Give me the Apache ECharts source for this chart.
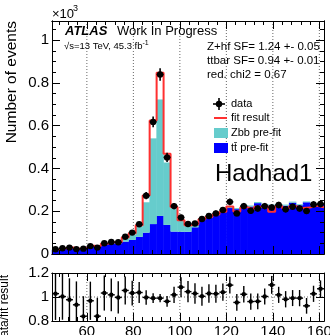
<!DOCTYPE html>
<html>
<head>
<meta charset="utf-8">
<script src="https://cdn.jsdelivr.net/npm/echarts@6/dist/echarts.min.js"></script>
<style>
html, body { margin: 0; padding: 0; background: #fff; }
#c { width: 330px; height: 335px; }
</style>
</head>
<body>
<div id="c"></div>
<script>
// Binning of the mass axis (GeV)
const binStart = 45;
const binWidth = 3;
const xMin = 45;
const xMax = 162;

// Events per bin, in units of 10^3
const dataCounts = [0.022, 0.027, 0.030, 0.023, 0.025, 0.037, 0.030, 0.050, 0.056, 0.055,
                    0.081, 0.100, 0.139, 0.273, 0.618, 0.840, 0.452, 0.224, 0.171, 0.140,
                    0.143, 0.164, 0.178, 0.190, 0.206, 0.244, 0.190, 0.224, 0.202, 0.213,
                    0.224, 0.218, 0.229, 0.209, 0.221, 0.213, 0.201, 0.232, 0.234];
const fitResult = [0.0214, 0.0269, 0.0307, 0.0246, 0.0298, 0.0382, 0.0357, 0.0484, 0.055, 0.0552,
                   0.0768, 0.0968, 0.134, 0.274, 0.624, 0.848, 0.469, 0.220, 0.158, 0.134,
                   0.139, 0.163, 0.173, 0.185, 0.198, 0.222, 0.199, 0.219, 0.210, 0.221,
                   0.223, 0.198, 0.225, 0.213, 0.223, 0.215, 0.217, 0.226, 0.219];
const ttbarPrefit = [0.019, 0.024, 0.027, 0.025, 0.028, 0.035, 0.034, 0.046, 0.050, 0.050,
                     0.058, 0.066, 0.080, 0.100, 0.140, 0.178, 0.136, 0.105, 0.104, 0.104,
                     0.125, 0.160, 0.172, 0.185, 0.198, 0.215, 0.210, 0.222, 0.222, 0.238,
                     0.228, 0.226, 0.228, 0.226, 0.240, 0.228, 0.242, 0.228, 0.234];
const zbbPrefit = [0.002, 0.002, 0.002, 0.002, 0.002, 0.002, 0.002, 0.002, 0.003, 0.004,
                   0.012, 0.023, 0.048, 0.142, 0.401, 0.545, 0.292, 0.108, 0.055, 0.026,
                   0.008, 0.006, 0.005, 0.005, 0.005, 0.006, 0.005, 0.005, 0.005, 0.005,
                   0.005, 0.005, 0.005, 0.005, 0.005, 0.005, 0.004, 0.005, 0.005];

// Tick positions
const xMajorTicks = [60, 80, 100, 120, 140, 160];
const xMinorTicks = [48, 52, 56, 64, 68, 72, 76, 84, 88, 92, 96, 104, 108, 112, 116,
                     124, 128, 132, 136, 144, 148, 152, 156];
const yMainLabels = [0, 0.2, 0.4, 0.6, 0.8, 1];
const yMainMinor = [0.05, 0.1, 0.15, 0.25, 0.3, 0.35, 0.45, 0.5, 0.55, 0.65, 0.7, 0.75,
                    0.85, 0.9, 0.95, 1.05];
const yRatioLabels = [0.8, 1, 1.2];

const FONT = '"Liberation Sans", Arial, Helvetica, sans-serif';
const CYAN = '#66cccc';
const BLUE = '#0000ff';
const RED = '#ff3030';

const nBins = dataCounts.length;
const edges = dataCounts.map((_, i) => binStart + i * binWidth);

const ttRects = ttbarPrefit.map((v, i) => [edges[i], edges[i] + binWidth, 0, v]);
const zbbRects = zbbPrefit.map((v, i) => [edges[i], edges[i] + binWidth, ttbarPrefit[i], ttbarPrefit[i] + v]);
const fitSteps = fitResult.map((v, i) => [edges[i], v]).concat([[edges[nBins - 1] + binWidth, fitResult[nBins - 1]]]);
const dataPts = dataCounts.map((v, i) => [edges[i] + binWidth / 2, v, Math.sqrt(v * 1000) / 1000, edges[i], edges[i] + binWidth]);
const ratioPts = dataCounts.map((v, i) => [edges[i] + binWidth / 2, v / fitResult[i],
                                            Math.sqrt(v * 1000) / (fitResult[i] * 1000), edges[i], edges[i] + binWidth]);

function xAx(grid, pos, ticks, len, labels) {
  return {
    type: 'value', gridIndex: grid, position: pos, min: xMin, max: xMax, z: 10,
    axisLine: { show: true, onZero: false, lineStyle: { color: '#000', width: 1 } },
    axisTick: { show: true, inside: true, length: len, customValues: ticks, lineStyle: { color: '#000', width: 1 } },
    axisLabel: labels ? { show: true, customValues: labels, margin: 3, color: '#000', fontSize: 15, fontFamily: FONT }
                      : { show: false },
    splitLine: { show: false }
  };
}
function yAx(grid, pos, min, max, ticks, len, labels) {
  return {
    type: 'value', gridIndex: grid, position: pos, min: min, max: max, z: 10,
    axisLine: { show: true, onZero: false, lineStyle: { color: '#000', width: 1 } },
    axisTick: { show: true, inside: true, length: len, customValues: ticks, lineStyle: { color: '#000', width: 1 } },
    axisLabel: labels ? { show: true, customValues: labels, margin: 3, color: '#000', fontSize: 15, fontFamily: FONT }
                      : { show: false },
    splitLine: { show: false }
  };
}

function rectItem(color) {
  return function (params, api) {
    const a = api.coord([api.value(0), api.value(3)]);
    const b = api.coord([api.value(1), api.value(2)]);
    return { type: 'rect', shape: { x: a[0] - 0.25, y: a[1], width: b[0] - a[0] + 0.5, height: b[1] - a[1] },
             style: { fill: color } };
  };
}
function pointItem(radius, lw) {
  return function (params, api) {
    const xc = api.value(0), y = api.value(1), e = api.value(2);
    const c = api.coord([xc, y]);
    const t = api.coord([xc, y + e]);
    const b = api.coord([xc, y - e]);
    const l = api.coord([api.value(3), y]);
    const r = api.coord([api.value(4), y]);
    return { type: 'group', children: [
      { type: 'line', shape: { x1: b[0], y1: b[1], x2: t[0], y2: t[1] }, style: { stroke: '#000', lineWidth: lw } },
      { type: 'line', shape: { x1: l[0], y1: l[1], x2: r[0], y2: r[1] }, style: { stroke: '#000', lineWidth: lw } },
      { type: 'circle', shape: { cx: c[0], cy: c[1], r: radius }, style: { fill: '#000' } }
    ] };
  };
}
function vGridItem(params, api) {
  const cs = params.coordSys;
  const p = api.coord([api.value(0), api.value(1)]);
  return { type: 'line', shape: { x1: p[0], y1: cs.y, x2: p[0], y2: cs.y + cs.height },
           style: { stroke: '#666', lineWidth: 1, lineDash: [1, 2] } };
}
function hGridItem(params, api) {
  const cs = params.coordSys;
  const p = api.coord([api.value(0), api.value(1)]);
  return { type: 'line', shape: { x1: cs.x, y1: p[1], x2: cs.x + cs.width, y2: p[1] },
           style: { stroke: '#666', lineWidth: 1, lineDash: [1, 2] } };
}

function txt(x, y, text, size, extra) {
  return Object.assign({
    type: 'text', x: x, y: y, z: 100,
    style: Object.assign({ text: text, fill: '#000', font: size + 'px ' + FONT,
                           align: 'left', verticalAlign: 'middle' }, extra || {})
  });
}

const option = {
  animation: false,
  backgroundColor: '#fff',
  grid: [
    { left: 52, top: 21, width: 272, height: 233, outerBoundsMode: 'none', containLabel: false },
    { left: 52, top: 273, width: 272, height: 48, outerBoundsMode: 'none', containLabel: false }
  ],
  xAxis: [
    xAx(0, 'bottom', xMajorTicks, 8),
    xAx(0, 'bottom', xMinorTicks, 4),
    xAx(0, 'top', xMajorTicks, 8),
    xAx(0, 'top', xMinorTicks, 4),
    xAx(1, 'bottom', xMajorTicks, 8, xMajorTicks),
    xAx(1, 'bottom', xMinorTicks, 4),
    xAx(1, 'top', xMajorTicks, 8),
    xAx(1, 'top', xMinorTicks, 4)
  ],
  yAxis: [
    yAx(0, 'left', 0, 1.09, yMainLabels, 8, yMainLabels),
    yAx(0, 'left', 0, 1.09, yMainMinor, 4),
    yAx(0, 'right', 0, 1.09, yMainLabels, 8),
    yAx(0, 'right', 0, 1.09, yMainMinor, 4),
    yAx(1, 'left', 0.8, 1.2, yRatioLabels, 8, yRatioLabels),
    yAx(1, 'right', 0.8, 1.2, yRatioLabels, 8)
  ],
  series: [
    { type: 'custom', name: 'grid-main', xAxisIndex: 0, yAxisIndex: 0, z: 1, silent: true,
      data: xMajorTicks.map(v => [v, 0]), encode: { x: 0, y: 1 }, renderItem: vGridItem },
    { type: 'custom', name: 'tt pre-fit', xAxisIndex: 0, yAxisIndex: 0, z: 2, silent: true,
      data: ttRects, encode: { x: [0, 1], y: [2, 3] }, renderItem: rectItem(BLUE) },
    { type: 'custom', name: 'Zbb pre-fit', xAxisIndex: 0, yAxisIndex: 0, z: 2, silent: true,
      data: zbbRects, encode: { x: [0, 1], y: [2, 3] }, renderItem: rectItem(CYAN) },
    { type: 'line', name: 'fit result', xAxisIndex: 0, yAxisIndex: 0, z: 3, silent: true,
      data: fitSteps, step: 'end', symbol: 'none', lineStyle: { color: RED, width: 2 } },
    { type: 'custom', name: 'data', xAxisIndex: 0, yAxisIndex: 0, z: 5, silent: true, clip: true,
      data: dataPts, encode: { x: 0, y: 1 }, renderItem: pointItem(3.2, 1.6) },

    { type: 'custom', name: 'grid-ratio-v', xAxisIndex: 4, yAxisIndex: 4, z: 1, silent: true,
      data: xMajorTicks.map(v => [v, 1]), encode: { x: 0, y: 1 }, renderItem: vGridItem },
    { type: 'custom', name: 'grid-ratio-h', xAxisIndex: 4, yAxisIndex: 4, z: 1, silent: true,
      data: [[xMin, 1]], encode: { x: 0, y: 1 }, renderItem: hGridItem },
    { type: 'custom', name: 'ratio', xAxisIndex: 4, yAxisIndex: 4, z: 5, silent: true, clip: true,
      data: ratioPts, encode: { x: 0, y: 1 }, renderItem: pointItem(2.2, 1.4) }
  ],
  graphic: [
    // axis titles
    { type: 'text', x: 12, y: 21, rotation: Math.PI / 2, z: 100,
      style: { text: 'Number of events', fill: '#000', font: '15.5px ' + FONT, align: 'right', verticalAlign: 'middle' } },
    { type: 'text', x: 5, y: 275, rotation: Math.PI / 2, z: 100,
      style: { text: 'Data/fit result', fill: '#000', font: '12px ' + FONT, align: 'right', verticalAlign: 'middle' } },
    // exponent
    txt(52, 14.5, '×10', 13),
    txt(73, 9, '3', 9),
    // labels
    txt(65, 31.5, 'ATLAS', 13, { font: 'italic bold 13px ' + FONT }),
    txt(117, 31.5, 'Work In Progress', 13),
    txt(64, 46, '√s=13 TeV, 45.3 fb', 9.5),
    txt(142.5, 43, '-1', 7),
    txt(207, 47, 'Z+hf SF= 1.24 +- 0.05', 11.5),
    txt(207, 61, 'ttbar SF= 0.94 +- 0.01', 11.5),
    txt(207, 75, 'red. chi2 = 0.67', 11.5),
    txt(215, 174, 'Hadhad1', 24),
    // legend
    { type: 'line', z: 100, shape: { x1: 213, y1: 104, x2: 225, y2: 104 }, style: { stroke: '#000', lineWidth: 1.6 } },
    { type: 'line', z: 100, shape: { x1: 219, y1: 98, x2: 219, y2: 110 }, style: { stroke: '#000', lineWidth: 1.6 } },
    { type: 'circle', z: 100, shape: { cx: 219, cy: 104, r: 3.2 }, style: { fill: '#000' } },
    { type: 'line', z: 100, shape: { x1: 214, y1: 118, x2: 227, y2: 118 }, style: { stroke: RED, lineWidth: 2 } },
    { type: 'rect', z: 100, shape: { x: 214, y: 128, width: 14, height: 10 }, style: { fill: CYAN } },
    { type: 'rect', z: 100, shape: { x: 214, y: 143, width: 14, height: 10 }, style: { fill: BLUE } },
    txt(231, 104, 'data', 11),
    txt(231, 118, 'fit result', 11),
    txt(231, 133, 'Zbb pre-fit', 11),
    txt(231, 148, 'tt\u0304 pre-fit', 11)
  ]
};

const chart = echarts.init(document.getElementById('c'), null, { renderer: 'canvas', width: 330, height: 335 });
chart.setOption(option);
</script>
</body>
</html>
